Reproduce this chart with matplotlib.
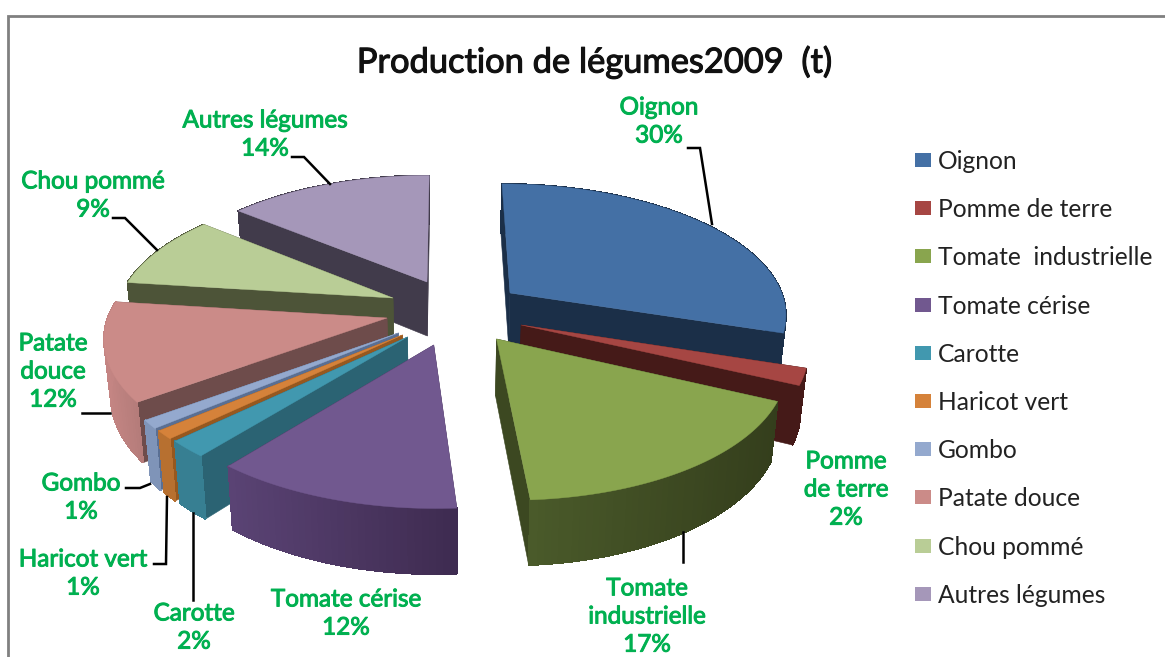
import numpy as np
import matplotlib
matplotlib.use("Agg")
import matplotlib.pyplot as plt
import matplotlib.patheffects as pe
from matplotlib.colors import to_rgb
from matplotlib.patches import Polygon, Rectangle

plt.rcParams['font.family'] = ['Lato', 'DejaVu Sans']

title = "Production de légumes2009  (t)"
legumes = ["Oignon", "Pomme de terre", "Tomate  industrielle", "Tomate cérise", "Carotte",
           "Haricot vert", "Gombo", "Patate douce", "Chou pommé", "Autres légumes"]
parts = [30, 2, 17, 12, 2, 1, 1, 12, 9, 14]

# couleurs : dessus, flanc radial, paroi extérieure (gauche / droite)
top_colors = ["#4470A5", "#A64643", "#89A54E", "#71588F", "#4198AF",
              "#D5823A", "#94A9CE", "#CB8B88", "#B9CD96", "#A597B9"]
side_colors = ["#1B2F48", "#451A18", "#3C4821", "#3F2C52", "#2B6373",
               "#96581F", "#5A6F93", "#6E4C4B", "#4D5438", "#413B4B"]
outer_left = ["#1B2F48", "#451A18", "#4A5A2A", "#5A4374", "#377F92",
              "#B77030", "#7F94B8", "#C48583", "#4D5438", "#413B4B"]
outer_right = ["#1B2F48", "#451A18", "#343E1C", "#3E2B50", "#377F92",
               "#B77030", "#7F94B8", "#B47C7A", "#4D5438", "#413B4B"]

# décalage de chaque part (px) par rapport au centre
offsets = [(65, -27), (76, 5), (51, 19), (-12, 25), (-38, 17),
           (-43, 15), (-47, 13), (-58, -2), (-52, -22), (-18, -38)]

# ordre de dessin, du fond vers l'avant
draw_order = [9, 0, 8, 7, 6, 5, 4, 3, 1, 2]

label_text = {
    0: ("Oignon\n30%", 659, 122),
    1: ("Pomme\nde terre\n2%", 846, 490),
    2: ("Tomate\nindustrielle\n17%", 647, 617),
    3: ("Tomate cérise\n12%", 346, 614),
    4: ("Carotte\n2%", 194, 628),
    5: ("Haricot vert\n1%", 83, 574),
    6: ("Gombo\n1%", 81, 498),
    7: ("Patate\ndouce\n12%", 53, 372),
    8: ("Chou pommé\n9%", 93, 196),
    9: ("Autres légumes\n14%", 265, 135),
}
leaders = [
    [(688, 148), (700, 148), (712, 224)],
    [(683, 532), (683, 562)],
    [(292, 157), (304, 157), (330, 184)],
    [(113, 218), (125, 218), (157, 250)],
    [(82, 413), (110, 413)],
    [(126, 488), (140, 488), (150, 484)],
    [(154, 564), (166, 564), (167, 497)],
    [(193, 513), (193, 600)],
]

CX, CY = 445, 320
RX, RY, K = 280, 132, 0.144
H0 = 56
BOTTOM = 0.98
SHEAR = 4


def project(px, py):
    s = 1 / (1 + K * py)
    return CX + RX * px * s + SHEAR * np.clip(-py, 0, None), CY - RY * py * s, s


def unproject(dx, dy):
    v = -dy / RY
    py = v / (1 - K * v)
    s = 1 / (1 + K * py)
    return dx / (RX * s), py


def mix(c1, c2, t):
    a, b = np.array(to_rgb(c1)), np.array(to_rgb(c2))
    return tuple(a + (b - a) * t)


def rim(ax0, ay0, theta):
    px = ax0 + np.sin(theta)
    py = ay0 + np.cos(theta)
    x, y, s = project(px, py)
    return x, y, s


def drop(x, y, s):
    return CX + (x - CX) * BOTTOM, y + H0 * s ** 0.85


fig = plt.figure(figsize=(11.65, 6.57), dpi=100)
ax = fig.add_axes([0, 0, 1, 1])
ax.set_xlim(0, 1165)
ax.set_ylim(657, 0)
ax.axis("off")

ax.plot([8, 8, 1165], [657, 16, 16], color="#808080", lw=2, solid_joinstyle="miter")

edges = np.cumsum([0] + parts) / sum(parts) * 2 * np.pi

for i in draw_order:
    ax0, ay0 = unproject(*offsets[i])
    start, end = edges[i], edges[i + 1]
    thetas = np.linspace(start, end, max(int(parts[i] * 3), 8))
    xa, ya, sa = project(ax0, ay0)
    xb, yb = drop(xa, ya, sa)
    xs, ys, ss = rim(ax0, ay0, thetas)
    xd, yd = drop(xs, ys, ss)

    # flancs radiaux
    for j in (0, -1):
        ax.add_patch(Polygon([(xa, ya), (xs[j], ys[j]), (xd[j], yd[j]), (xb, yb)],
                             fc=side_colors[i], ec=side_colors[i], lw=0.4))
    # paroi extérieure, en tranches pour le dégradé
    xmin, xmax = xs.min(), xs.max()
    for j in range(len(thetas) - 1):
        t = ((xs[j] + xs[j + 1]) / 2 - xmin) / max(xmax - xmin, 1)
        c = mix(outer_left[i], outer_right[i], t)
        ax.add_patch(Polygon([(xs[j], ys[j]), (xs[j + 1], ys[j + 1]),
                              (xd[j + 1], yd[j + 1]), (xd[j], yd[j])],
                             fc=c, ec=c, lw=0.6, antialiased=False))
    # dessus
    ax.add_patch(Polygon(np.vstack([[xa, ya], np.column_stack([xs, ys])]),
                         fc=top_colors[i], ec=top_colors[i], lw=0.3))

for pts in leaders:
    ax.plot(*zip(*pts), color="black", lw=1.8, solid_joinstyle="miter", zorder=5)

# le gras de Lato est trop large : regular + contour fin
for i, (txt, x, y) in label_text.items():
    ax.text(x, y, txt, color="#00B050", fontsize=17.5, ha="center", va="center",
            linespacing=1.42, zorder=6,
            path_effects=[pe.withStroke(linewidth=0.7, foreground="#00B050")])

ax.text(595, 62, title, fontsize=24.8, color="#111111", ha="center", va="center",
        path_effects=[pe.withStroke(linewidth=0.8, foreground="#111111")])

for n, name in enumerate(legumes):
    yy = 160 + n * 48.2
    ax.add_patch(Rectangle((915, yy - 7), 16, 14, fc=top_colors[n], ec="none"))
    ax.text(938, yy + 1.5, name, fontsize=17.7, color="#222222", ha="left", va="center")

fig.savefig("out.png", dpi=100, facecolor="white")
